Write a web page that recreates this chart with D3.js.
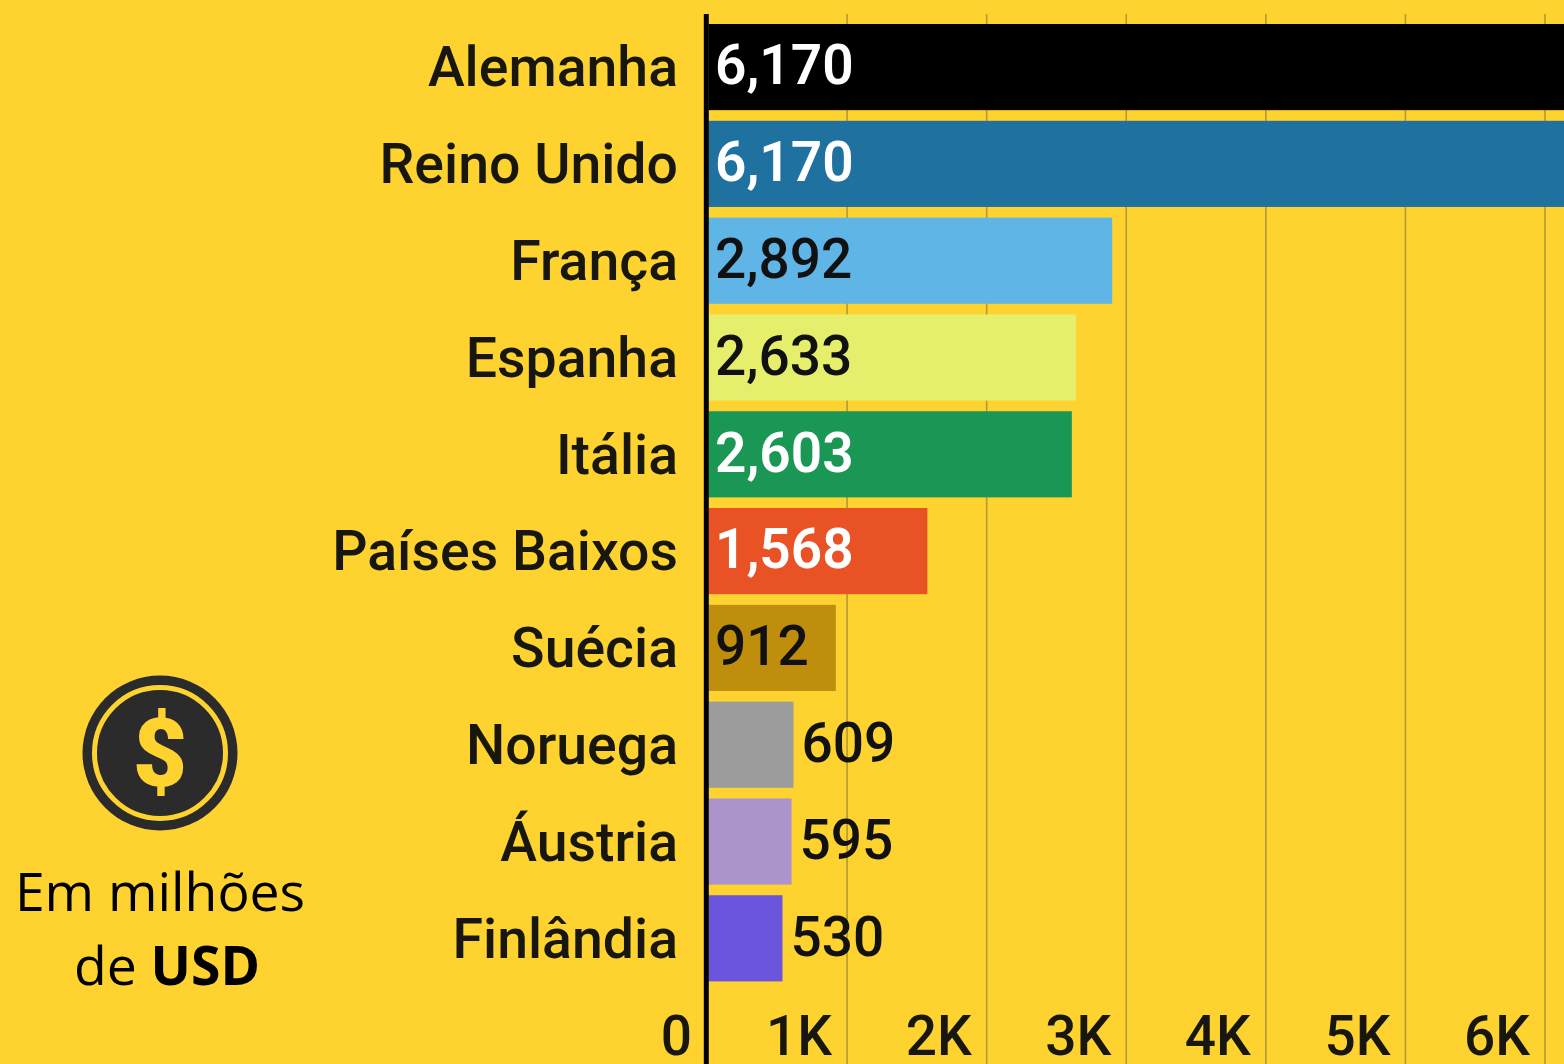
<!DOCTYPE html>
<html>
<head>
<meta charset="utf-8">
<script src="https://cdn.jsdelivr.net/npm/d3@7"></script>
<style>
  html, body { margin: 0; padding: 0; background: #ffd32f; overflow: hidden; }
  svg { display: block; }
  text { font-family: Roboto, sans-serif; }
  .suave { filter: blur(0.6px); }
</style>
</head>
<body>
<svg id="chart" width="1564" height="1064"></svg>
<script>
// dados
const paises = ["Alemanha", "Reino Unido", "França", "Espanha", "Itália", "Países Baixos", "Suécia", "Noruega", "Áustria", "Finlândia"];
const valores = [6170, 6170, 2892, 2633, 2603, 1568, 912, 609, 595, 530];
const rotulos = ["6,170", "6,170", "2,892", "2,633", "2,603", "1,568", "912", "609", "595", "530"];
const cores = ["#000000", "#1f71a0", "#5eb5e6", "#e6ef6b", "#1b9755", "#e85225", "#bf8e0c", "#9c9c9c", "#ab93cb", "#6b55dc"];
const corTexto = ["#ffffff", "#ffffff", "#111111", "#111111", "#ffffff", "#ffffff", "#111111", "#111111", "#111111", "#111111"];
const marcas = [0, 1000, 2000, 3000, 4000, 5000, 6000];
const marcasTexto = ["0", "1K", "2K", "3K", "4K", "5K", "6K"];

const svg = d3.select("#chart");

// escalas
const x = d3.scaleLinear().domain([0, 6000]).range([708.5, 1546]);
const y = d3.scaleBand().domain(paises).range([24, 981.4]).paddingInner(0.11).paddingOuter(0);

const grafico = svg.append("g").attr("class", "suave");

// grade vertical
grafico.append("g")
  .selectAll("line")
  .data(marcas.slice(1))
  .enter()
  .append("line")
  .attr("x1", d => x(d) - 1).attr("x2", d => x(d) - 1)
  .attr("y1", 14).attr("y2", 1064)
  .attr("stroke", "#b39a35")
  .attr("stroke-width", 1.6);

// barras
grafico.append("g")
  .selectAll("rect")
  .data(paises)
  .enter()
  .append("rect")
  .attr("x", x(0))
  .attr("y", d => y(d))
  .attr("width", (d, i) => x(valores[i]) - x(0))
  .attr("height", y.bandwidth())
  .attr("fill", (d, i) => cores[i]);

// eixo zero
grafico.append("line")
  .attr("x1", x(0) - 2.2).attr("x2", x(0) - 2.2)
  .attr("y1", 14).attr("y2", 1064)
  .attr("stroke", "#000").attr("stroke-width", 5);

// nomes dos paises
grafico.append("g")
  .selectAll("text")
  .data(paises)
  .enter()
  .append("text")
  .attr("x", 678)
  .attr("y", d => y(d) + y.bandwidth() / 2)
  .attr("dy", "0.35em")
  .attr("text-anchor", "end")
  .attr("font-size", 55.4)
  .attr("font-weight", 500)
  .attr("fill", "#17170f")
  .text(d => d);

// valores
grafico.append("g")
  .selectAll("text")
  .data(paises)
  .enter()
  .append("text")
  .attr("x", (d, i) => valores[i] > 800 ? 715 : x(valores[i]) + 8)
  .attr("y", d => y(d) + y.bandwidth() / 2 - 2)
  .attr("dy", "0.35em")
  .attr("font-size", 55)
  .attr("font-weight", (d, i) => corTexto[i] === "#ffffff" ? 600 : 500)
  .attr("fill", (d, i) => corTexto[i])
  .text((d, i) => rotulos[i]);

// rotulos do eixo
grafico.append("g")
  .selectAll("text")
  .data(marcas)
  .enter()
  .append("text")
  .attr("x", (d, i) => i === 0 ? 692 : x(d) - 16)
  .attr("y", 1055)
  .attr("text-anchor", "end")
  .attr("font-size", 55)
  .attr("font-weight", 500)
  .attr("fill", "#17170f")
  .text((d, i) => marcasTexto[i]);

// icone do dolar
const icone = svg.append("g").attr("transform", "translate(160,753)");
icone.append("circle").attr("r", 77.5).attr("fill", "#2b2b2b");
icone.append("circle").attr("r", 65.5).attr("fill", "none").attr("stroke", "#ffd32f").attr("stroke-width", 5);
icone.append("text")
  .attr("text-anchor", "middle").attr("y", 33)
  .attr("font-size", 94).attr("font-weight", 900)
  .attr("fill", "#ffd32f").text("$");

// legenda da unidade
svg.append("text")
  .attr("x", 160).attr("y", 911)
  .attr("text-anchor", "middle")
  .attr("font-size", 53.5)
  .style("font-family", "'Open Sans'")
  .attr("fill", "#000")
  .text("Em milhões");
const linha2 = svg.append("text")
  .attr("x", 167).attr("y", 985)
  .attr("text-anchor", "middle")
  .attr("font-size", 53.5)
  .style("font-family", "'Open Sans'")
  .attr("fill", "#000");
linha2.append("tspan").text("de ");
linha2.append("tspan").attr("font-weight", 700).text("USD");
</script>
</body>
</html>
